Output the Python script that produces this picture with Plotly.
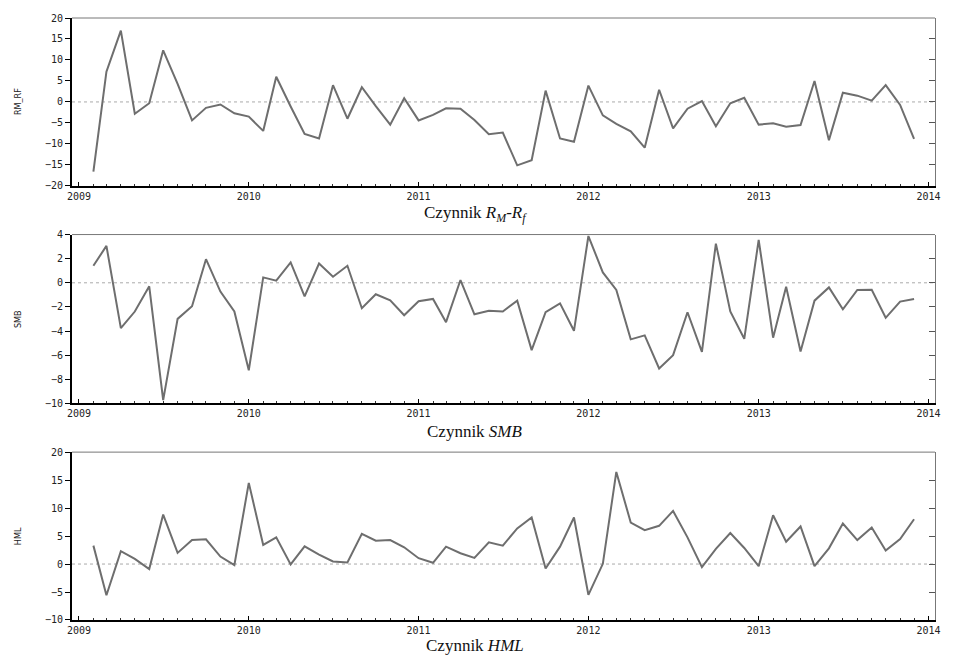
import plotly.graph_objects as go
import pandas as pd

months = pd.date_range("2009-02-01", periods=59, freq="MS")

rm_rf = [-16.6, 7.2, 17.0, -2.8, -0.3, 12.3, 4.3, -4.4, -1.4, -0.6, -2.7, -3.5, -6.9, 6.0, -1.1, -7.6, -8.7,
         4.0, -4.0, 3.5, -1.0, -5.4, 0.9, -4.4, -3.1, -1.5, -1.6, -4.3, -7.7, -7.3, -15.1, -13.9, 2.7,
         -8.7, -9.5, 3.9, -3.2, -5.2, -7.0, -10.9, 2.9, -6.3, -1.6, 0.2, -5.8, -0.3, 1.0, -5.4, -5.1,
         -5.9, -5.5, 5.0, -9.1, 2.2, 1.5, 0.3, 4.0, -0.7, -8.8]

smb = [1.41, 3.06, -3.76, -2.38, -0.29, -9.72, -2.99, -1.94, 1.96, -0.73, -2.38, -7.25, 0.45, 0.18, 1.69,
       -1.12, 1.60, 0.5, 1.41, -2.11, -0.95, -1.45, -2.69, -1.53, -1.34, -3.26, 0.23, -2.61, -2.31,
       -2.38, -1.48, -5.58, -2.44, -1.70, -3.98, 3.88, 0.86, -0.59, -4.69, -4.36, -7.1, -6.0, -2.44,
       -5.73, 3.25, -2.38, -4.64, 3.56, -4.55, -0.32, -5.69, -1.48, -0.38, -2.19, -0.59, -0.57, -2.9,
       -1.56, -1.34]

hml = [3.29, -5.57, 2.29, 0.93, -0.9, 8.84, 1.99, 4.29, 4.41, 1.34, -0.19, 14.5, 3.41, 4.77, -0.07, 3.17,
       1.7, 0.45, 0.28, 5.41, 4.17, 4.29, 2.99, 1.04, 0.22, 3.11, 1.93, 1.10, 3.88, 3.29, 6.36, 8.31,
       -0.79, 3.11, 8.31, -5.51, 0.04, 16.46, 7.42, 6.06, 6.83, 9.49, 4.77, -0.55, 2.70, 5.53, 2.87,
       -0.37, 8.72, 4.0, 6.71, -0.37, 2.81, 7.24, 4.29, 6.54, 2.4, 4.47, 8.0]

series = [rm_rf, smb, hml]
y_names = ["RM_RF", "SMB", "HML"]
y_ranges = [[-20, 20], [-10, 4], [-10, 20]]
y_dticks = [5, 2, 5]
titles = ["Czynnik <i>R</i><sub><i>M</i></sub>-<i>R</i><sub><i>f</i></sub>",
          "Czynnik <i>SMB</i>", "Czynnik <i>HML</i>"]

# layout geometry (pixels -> paper)
ML, MR, MT, MB = 72, 16, 14, 37
W, H = 953, 657
ph = H - MT - MB
def py(pix):
    return (H - MB - pix) / ph

domains = [[py(183), 1.0], [py(402), py(232)], [0.0, py(451)]]
title_y = [py(211), py(430), py(646)]
ylab_y = [(py(183) + 1.0) / 2, (py(402) + py(232)) / 2, (py(451)) / 2]

tickfont = dict(family="DejaVu Sans Mono", size=10, color="#222")
line_color = "#6e6e6e"
x_range = ["2008-12-17", "2014-01-15"]

fig = go.Figure()
shapes = []
annotations = []
layout = {}

for i in range(3):
    n = "" if i == 0 else str(i + 1)
    xa, ya = "x" + n, "y" + n
    ov = "y" + str(i + 4)
    fig.add_trace(go.Scatter(x=months, y=series[i], mode="lines",
                             line=dict(color=line_color, width=2),
                             xaxis=xa, yaxis=ya, showlegend=False, hoverinfo="x+y"))
    fig.add_trace(go.Scatter(x=[months[0]], y=[None], xaxis=xa, yaxis=ov, mode="lines",
                             showlegend=False, hoverinfo="skip"))
    layout["xaxis" + n] = dict(
        domain=[0, 1], anchor=ya, type="date", range=x_range,
        tick0="2009-01-01", dtick="M12", tickformat="%Y",
        showline=True, linecolor="black", linewidth=2,
        ticks="inside", ticklen=4, tickcolor="black", tickwidth=1,
        minor=dict(dtick="M1", ticks="inside", ticklen=2, tickcolor="#333", tickwidth=1),
        tickfont=tickfont, showgrid=False, zeroline=False)
    layout["yaxis" + n] = dict(
        domain=domains[i], anchor=xa, range=y_ranges[i], dtick=y_dticks[i],
        showline=True, linecolor="black", linewidth=2,
        ticks="outside", ticklen=5, tickcolor="black", tickwidth=1,
        tickfont=tickfont, showgrid=False, zeroline=False)
    layout["yaxis" + str(i + 4)] = dict(
        overlaying=ya, anchor=xa, side="right", range=y_ranges[i], dtick=y_dticks[i],
        showline=True, linecolor="#777", linewidth=1,
        ticks="inside", ticklen=6, tickcolor="#555", tickwidth=1,
        showticklabels=False, showgrid=False, zeroline=False)
    shapes.append(dict(type="line", xref=xa + " domain", yref=ya + " domain",
                       x0=0, x1=1, y0=1, y1=1, line=dict(color="#777", width=1)))
    shapes.append(dict(type="line", xref=xa + " domain", yref=ya,
                       x0=0, x1=1, y0=0, y1=0, line=dict(color="#aaa", width=1, dash="dot"),
                       layer="below"))
    annotations.append(dict(text=titles[i], xref="paper", yref="paper",
                            x=(476 - ML) / (W - ML - MR), y=title_y[i],
                            showarrow=False, xanchor="center", yanchor="middle",
                            font=dict(family="Liberation Serif", size=17, color="#111")))
    annotations.append(dict(text=y_names[i], xref="paper", yref="paper",
                            x=(18 - ML) / (W - ML - MR), y=ylab_y[i], textangle=-90,
                            showarrow=False, xanchor="center", yanchor="middle",
                            font=dict(family="DejaVu Sans Condensed", size=9, color="#222")))

fig.update_layout(**layout)
fig.update_layout(width=W, height=H, margin=dict(l=ML, r=MR, t=MT, b=MB),
                  paper_bgcolor="white", plot_bgcolor="white",
                  shapes=shapes, annotations=annotations, showlegend=False)

fig.write_html("out.html", config={"displayModeBar": False},
               post_script="document.body.style.margin='0';document.body.style.padding='0';")
